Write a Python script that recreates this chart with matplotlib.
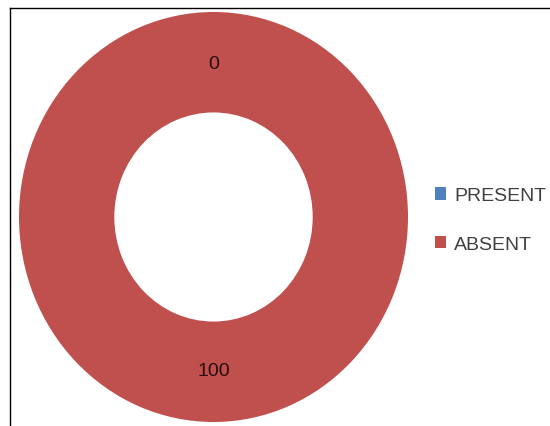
import matplotlib.pyplot as plt
from matplotlib.lines import Line2D

# data
categories = ["PRESENT", "ABSENT"]
values = [0, 100]
colors = ["#4F81BD", "#C0504D"]

plt.rcParams['font.family'] = ['Liberation Sans', 'DejaVu Sans']

fig = plt.figure(figsize=(5.5, 4.27), dpi=100)
W, H = 550, 427

# donut area (pixels from the reference)
left, right, top, bottom = 19, 408, 13, 423
ax = fig.add_axes([left / W, (H - bottom) / H, (right - left) / W, (bottom - top) / H])

wedges, texts, autotexts = ax.pie(
    values, colors=colors, startangle=90, counterclock=False,
    autopct=lambda p: f"{p:.0f}", pctdistance=0.75,
    wedgeprops=dict(width=0.49, edgecolor="none"), radius=1,
)
for t in autotexts:
    t.set_fontsize(14)
    t.set_color("#2a0c0c")
ax.set_aspect("auto")
ax.set_xlim(-1, 1)
ax.set_ylim(-1, 1)
ax.axis("off")

fig.legend(wedges, categories, loc="center left", bbox_to_anchor=(427 / W, 1 - 221 / H),
           frameon=False, fontsize=14, labelcolor="#404040", handlelength=0.6,
           handleheight=0.6, handletextpad=0.4, labelspacing=1.6, borderaxespad=0)

# border (left and top edges visible)
fig.add_artist(Line2D([10 / W, 10 / W], [0, 1 - 9 / H], color="black", lw=1))
fig.add_artist(Line2D([10 / W, 1], [1 - 9 / H, 1 - 9 / H], color="black", lw=1))

fig.savefig("out.png", dpi=100)
